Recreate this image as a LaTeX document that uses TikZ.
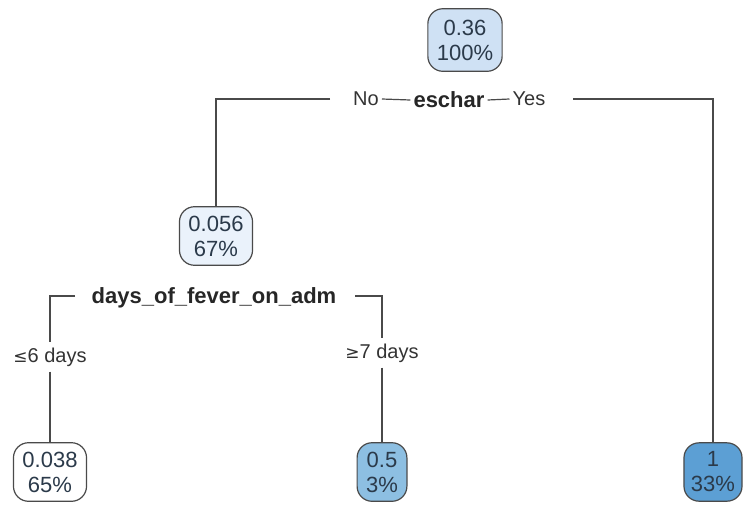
\documentclass[tikz,border=0pt]{standalone}
\usepackage{fontspec}
\setmainfont{Liberation Sans}
\newfontfamily\symfont{DejaVu Sans}
\usepackage{xcolor}
\definecolor{rootfill}{HTML}{CFE1F4}
\definecolor{midfill}{HTML}{EAF2FB}
\definecolor{halffill}{HTML}{8DBFE2}
\definecolor{fullfill}{HTML}{5C9FD4}
\definecolor{nodetext}{HTML}{2B3A4A}
\definecolor{edge}{HTML}{4A4A4A}

\begin{document}
\begin{tikzpicture}[x=1pt, y=-1pt,
    leafbox/.style={draw=edge, line width=1.2pt, rounded corners=15pt, align=center,
        font=\fontsize{22}{25}\selectfont, text=nodetext, inner xsep=9pt, inner ysep=11pt},
    splitname/.style={font=\bfseries\fontsize{22}{24}\selectfont, text=black!85, inner sep=3pt},
    branch/.style={font=\fontsize{20}{22}\selectfont, text=black!80, inner sep=3pt},
    wire/.style={draw=edge, line width=1.2pt}]
    \useasboundingbox (0,0) rectangle (744,507);
    % Nodes of the tree
    \node[leafbox, fill=rootfill] (root) at (465,40) {0.36\\100\%};
    \node[leafbox, fill=midfill, inner ysep=9pt] (mid) at (216,236) {0.056\\67\%};
    \node[leafbox, fill=white, inner ysep=9pt] (leafa) at (50,472) {0.038\\65\%};
    \node[leafbox, fill=halffill, inner ysep=9pt] (leafb) at (382,472) {0.5\\3\%};
    \node[leafbox, fill=fullfill, inner ysep=9pt, inner xsep=7pt] (leafc) at (713,472) {1\\33\%};
    % First split
    \node[splitname] (eschar) at (449,100) {eschar};
    \node[branch] (no) at (366,99) {No};
    \node[branch] (yes) at (529,99) {Yes};
    \draw[wire] (no.east) -- (eschar.west);
    \draw[wire] (eschar.east) -- (yes.west);
    \coordinate (cutl) at (330,99);
    \coordinate (cutr) at (573,99);
    \draw[wire] (cutl) -| (mid.north);
    \draw[wire] (cutr) -| (leafc.north);
    % Second split
    \node[splitname] (days) at (214,298) {days\_of\_fever\_on\_adm};
    \node[branch, inner sep=5pt] (le) at (50,357) {{\symfont\fontsize{17}{20}\selectfont ≤}6 days};
    \node[branch, inner sep=5pt] (ge) at (382,353) {{\symfont\fontsize{17}{20}\selectfont ≥}7 days};
    \coordinate (cutd) at (75,296);
    \coordinate (cute) at (355,296);
    \draw[wire] (cutd) -| (le.north);
    \draw[wire] (cute) -| (ge.north);
    \draw[wire] (le.south) -- (leafa.north);
    \draw[wire] (ge.south) -- (leafb.north);
\end{tikzpicture}
\end{document}
